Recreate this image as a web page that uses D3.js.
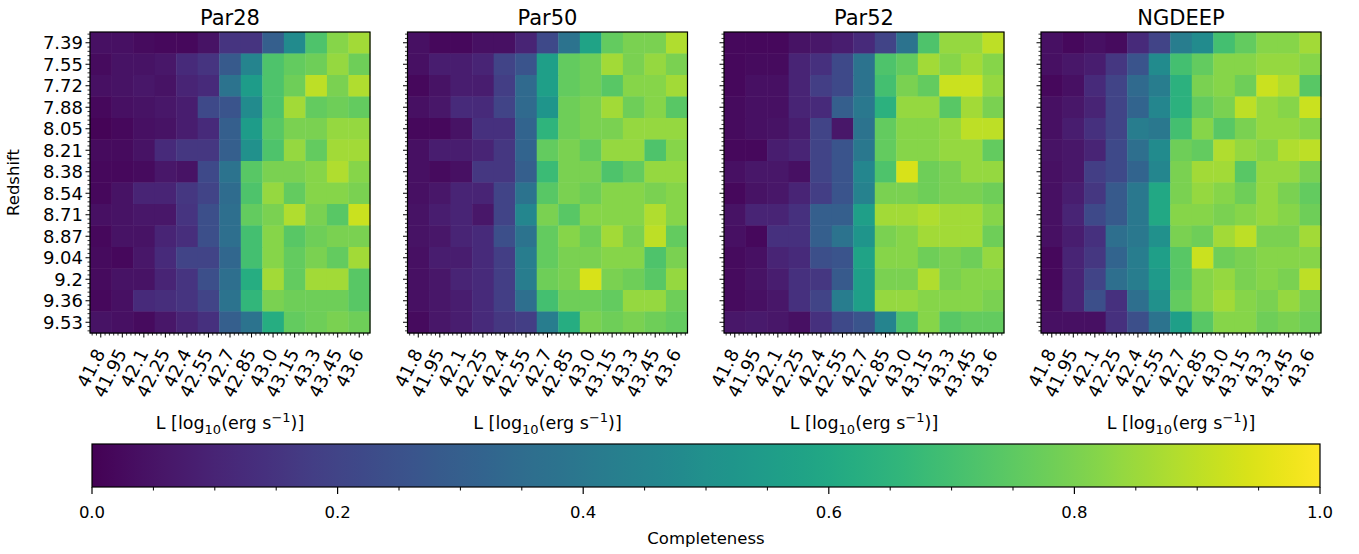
<!DOCTYPE html>
<html>
<head>
<meta charset="utf-8">
<script src="https://cdn.jsdelivr.net/npm/d3@7"></script>
<style>
  body { margin: 0; background: #fff; }
  svg { font-family: "DejaVu Sans", sans-serif; }
</style>
</head>
<body>
<svg id="chart" width="1359" height="554"></svg>
<script>
// luminosity bins (x) and redshift bins (y)
var xLabels = ["41.8", "41.95", "42.1", "42.25", "42.4", "42.55", "42.7", "42.85", "43.0", "43.15", "43.3", "43.45", "43.6"];
var yLabels = ["7.39", "7.55", "7.72", "7.88", "8.05", "8.21", "8.38", "8.54", "8.71", "8.87", "9.04", "9.2", "9.36", "9.53"];
var fieldNames = ["Par28", "Par50", "Par52", "NGDEEP"];
var cbarTicks = [0, 0.2, 0.4, 0.6, 0.8, 1.0];

// completeness, one row per redshift bin
var par28 = [
  [0.04, 0.04, 0.03, 0.02, 0.02, 0.05, 0.15, 0.15, 0.30, 0.48, 0.72, 0.82, 0.86],
  [0.03, 0.05, 0.05, 0.06, 0.12, 0.15, 0.28, 0.45, 0.72, 0.76, 0.78, 0.84, 0.78],
  [0.04, 0.05, 0.06, 0.05, 0.10, 0.12, 0.38, 0.55, 0.72, 0.78, 0.90, 0.80, 0.88],
  [0.02, 0.04, 0.05, 0.06, 0.08, 0.22, 0.26, 0.48, 0.72, 0.86, 0.76, 0.78, 0.76],
  [0.01, 0.02, 0.04, 0.05, 0.08, 0.12, 0.30, 0.55, 0.74, 0.80, 0.80, 0.84, 0.84],
  [0.03, 0.03, 0.05, 0.12, 0.16, 0.16, 0.30, 0.50, 0.72, 0.84, 0.76, 0.86, 0.86],
  [0.02, 0.02, 0.03, 0.06, 0.05, 0.22, 0.38, 0.74, 0.80, 0.80, 0.82, 0.88, 0.82],
  [0.02, 0.05, 0.10, 0.10, 0.16, 0.20, 0.35, 0.72, 0.84, 0.76, 0.82, 0.82, 0.80],
  [0.04, 0.05, 0.06, 0.06, 0.15, 0.24, 0.36, 0.76, 0.80, 0.88, 0.80, 0.74, 0.92],
  [0.02, 0.05, 0.05, 0.10, 0.13, 0.24, 0.36, 0.70, 0.82, 0.74, 0.78, 0.80, 0.80],
  [0.03, 0.02, 0.06, 0.12, 0.20, 0.20, 0.33, 0.70, 0.82, 0.76, 0.80, 0.76, 0.86],
  [0.03, 0.05, 0.05, 0.10, 0.15, 0.24, 0.36, 0.62, 0.86, 0.76, 0.86, 0.86, 0.74],
  [0.02, 0.04, 0.12, 0.13, 0.15, 0.20, 0.38, 0.66, 0.80, 0.78, 0.78, 0.78, 0.74],
  [0.05, 0.04, 0.03, 0.06, 0.10, 0.14, 0.30, 0.38, 0.62, 0.76, 0.78, 0.80, 0.78]
];
var par50 = [
  [0.04, 0.02, 0.02, 0.04, 0.04, 0.10, 0.22, 0.38, 0.58, 0.76, 0.80, 0.80, 0.88],
  [0.04, 0.08, 0.08, 0.10, 0.20, 0.26, 0.56, 0.76, 0.78, 0.86, 0.80, 0.84, 0.80],
  [0.02, 0.05, 0.08, 0.08, 0.18, 0.34, 0.56, 0.76, 0.78, 0.74, 0.82, 0.82, 0.86],
  [0.04, 0.06, 0.12, 0.12, 0.20, 0.34, 0.52, 0.78, 0.80, 0.86, 0.78, 0.82, 0.74],
  [0.02, 0.02, 0.05, 0.14, 0.14, 0.32, 0.65, 0.78, 0.80, 0.80, 0.84, 0.84, 0.84],
  [0.04, 0.08, 0.08, 0.10, 0.16, 0.32, 0.76, 0.80, 0.76, 0.84, 0.84, 0.72, 0.82],
  [0.04, 0.03, 0.04, 0.16, 0.16, 0.30, 0.68, 0.80, 0.80, 0.72, 0.76, 0.84, 0.84],
  [0.04, 0.06, 0.10, 0.10, 0.20, 0.38, 0.74, 0.80, 0.78, 0.82, 0.82, 0.80, 0.82],
  [0.05, 0.08, 0.10, 0.06, 0.20, 0.46, 0.80, 0.74, 0.82, 0.82, 0.82, 0.88, 0.82],
  [0.05, 0.06, 0.10, 0.12, 0.24, 0.38, 0.76, 0.82, 0.78, 0.86, 0.80, 0.90, 0.76],
  [0.04, 0.08, 0.08, 0.12, 0.18, 0.42, 0.76, 0.80, 0.80, 0.82, 0.82, 0.72, 0.80],
  [0.04, 0.06, 0.10, 0.12, 0.18, 0.42, 0.78, 0.80, 0.94, 0.80, 0.78, 0.74, 0.84],
  [0.04, 0.06, 0.08, 0.12, 0.18, 0.36, 0.70, 0.78, 0.78, 0.76, 0.84, 0.84, 0.78],
  [0.03, 0.06, 0.08, 0.12, 0.16, 0.18, 0.42, 0.62, 0.80, 0.78, 0.80, 0.78, 0.76]
];
var par52 = [
  [0.02, 0.02, 0.02, 0.05, 0.06, 0.08, 0.12, 0.20, 0.38, 0.72, 0.84, 0.84, 0.90],
  [0.02, 0.03, 0.03, 0.10, 0.14, 0.22, 0.38, 0.72, 0.76, 0.86, 0.82, 0.86, 0.82],
  [0.02, 0.04, 0.04, 0.10, 0.18, 0.22, 0.38, 0.70, 0.80, 0.76, 0.92, 0.92, 0.84],
  [0.03, 0.04, 0.04, 0.10, 0.12, 0.30, 0.40, 0.64, 0.84, 0.84, 0.74, 0.86, 0.80],
  [0.03, 0.04, 0.05, 0.08, 0.20, 0.06, 0.38, 0.76, 0.82, 0.82, 0.84, 0.90, 0.90],
  [0.02, 0.02, 0.08, 0.10, 0.20, 0.26, 0.40, 0.76, 0.82, 0.82, 0.84, 0.84, 0.76],
  [0.04, 0.06, 0.06, 0.04, 0.20, 0.26, 0.46, 0.72, 0.94, 0.78, 0.80, 0.84, 0.84],
  [0.02, 0.05, 0.06, 0.10, 0.18, 0.26, 0.44, 0.80, 0.80, 0.78, 0.80, 0.80, 0.78],
  [0.05, 0.10, 0.10, 0.14, 0.30, 0.30, 0.56, 0.86, 0.86, 0.88, 0.86, 0.86, 0.82],
  [0.04, 0.02, 0.14, 0.14, 0.30, 0.38, 0.52, 0.80, 0.82, 0.86, 0.86, 0.86, 0.78],
  [0.03, 0.04, 0.10, 0.12, 0.24, 0.26, 0.58, 0.82, 0.82, 0.78, 0.80, 0.78, 0.84],
  [0.03, 0.05, 0.08, 0.14, 0.16, 0.28, 0.56, 0.80, 0.80, 0.88, 0.80, 0.82, 0.82],
  [0.03, 0.04, 0.06, 0.14, 0.20, 0.42, 0.56, 0.84, 0.84, 0.82, 0.82, 0.82, 0.80],
  [0.06, 0.07, 0.06, 0.04, 0.14, 0.22, 0.26, 0.45, 0.72, 0.82, 0.74, 0.76, 0.76]
];
var ngdeep = [
  [0.04, 0.02, 0.04, 0.03, 0.12, 0.20, 0.42, 0.48, 0.70, 0.76, 0.82, 0.82, 0.86],
  [0.04, 0.06, 0.08, 0.16, 0.26, 0.48, 0.70, 0.76, 0.82, 0.82, 0.84, 0.84, 0.82],
  [0.02, 0.04, 0.12, 0.20, 0.34, 0.42, 0.64, 0.80, 0.82, 0.78, 0.92, 0.88, 0.74],
  [0.04, 0.06, 0.10, 0.20, 0.32, 0.46, 0.64, 0.76, 0.80, 0.90, 0.84, 0.82, 0.92],
  [0.04, 0.08, 0.14, 0.20, 0.42, 0.40, 0.70, 0.82, 0.74, 0.80, 0.84, 0.84, 0.82],
  [0.05, 0.06, 0.10, 0.22, 0.36, 0.48, 0.78, 0.76, 0.88, 0.84, 0.82, 0.88, 0.90],
  [0.04, 0.06, 0.18, 0.22, 0.32, 0.46, 0.80, 0.86, 0.86, 0.74, 0.84, 0.84, 0.80],
  [0.04, 0.08, 0.16, 0.28, 0.40, 0.60, 0.80, 0.84, 0.82, 0.78, 0.84, 0.80, 0.76],
  [0.04, 0.10, 0.22, 0.28, 0.40, 0.60, 0.82, 0.82, 0.80, 0.82, 0.84, 0.82, 0.78],
  [0.04, 0.08, 0.14, 0.36, 0.40, 0.50, 0.80, 0.78, 0.86, 0.90, 0.80, 0.80, 0.86],
  [0.02, 0.10, 0.16, 0.32, 0.42, 0.56, 0.74, 0.92, 0.78, 0.80, 0.82, 0.82, 0.82],
  [0.02, 0.10, 0.20, 0.36, 0.42, 0.54, 0.74, 0.82, 0.84, 0.80, 0.82, 0.80, 0.90],
  [0.03, 0.10, 0.24, 0.14, 0.36, 0.50, 0.76, 0.82, 0.86, 0.82, 0.80, 0.84, 0.80],
  [0.04, 0.04, 0.04, 0.14, 0.24, 0.38, 0.56, 0.74, 0.82, 0.82, 0.78, 0.80, 0.78]
];
var fieldData = [par28, par50, par52, ngdeep];

var svg = d3.select("#chart");
var panelLefts = [90, 407.5, 724, 1041];
var panelTop = 32;
var panelW = 280, panelH = 301;

var color = d3.scaleSequential(d3.interpolateViridis).domain([0, 1]);

var x = d3.scaleLinear().domain([-0.5, xLabels.length - 0.5]).range([0, panelW]);
var y = d3.scaleLinear().domain([-0.5, yLabels.length - 0.5]).range([0, panelH]);

// minor ticks every fifth of a bin
var xMinor = d3.range(-0.4, xLabels.length - 0.5, 0.2).filter(function(v) { return Math.abs(v - Math.round(v)) > 0.01; });
var yMinor = d3.range(-0.4, yLabels.length - 0.5, 0.2).filter(function(v) { return Math.abs(v - Math.round(v)) > 0.01; });

var drawPanel = function(i) {
    var g = svg.append("g")
        .attr("transform", "translate(" + panelLefts[i] + "," + panelTop + ")");
    var data = fieldData[i];

    var cells = [];
    data.forEach(function(row, r) {
        row.forEach(function(v, c) { cells.push({r: r, c: c, v: v}); });
    });

    g.selectAll("rect.cell")
        .data(cells)
        .enter().append("rect")
        .attr("class", "cell")
        .attr("x", function(d) { return x(d.c - 0.5); })
        .attr("y", function(d) { return y(d.r - 0.5); })
        .attr("width", x(1) - x(0) + 0.4)
        .attr("height", y(1) - y(0) + 0.4)
        .attr("fill", function(d) { return color(d.v); });

    g.append("rect")
        .attr("width", panelW)
        .attr("height", panelH)
        .attr("fill", "none")
        .attr("stroke", "#000")
        .attr("stroke-width", 1.2);

    // bottom axis
    var bx = g.append("g").attr("transform", "translate(0," + panelH + ")");
    bx.selectAll("line.minor").data(xMinor).enter().append("line")
        .attr("x1", function(d) { return x(d); }).attr("x2", function(d) { return x(d); })
        .attr("y1", 0).attr("y2", 2.5)
        .attr("stroke", "#000").attr("stroke-width", 0.8);
    bx.selectAll("line.major").data(xLabels).enter().append("line")
        .attr("x1", function(d, k) { return x(k); }).attr("x2", function(d, k) { return x(k); })
        .attr("y1", 0).attr("y2", 4.5)
        .attr("stroke", "#000").attr("stroke-width", 1);
    bx.selectAll("text").data(xLabels).enter().append("text")
        .attr("transform", function(d, k) { return "translate(" + (x(k) + 5) + ",20) rotate(-63)"; })
        .attr("text-anchor", "end")
        .attr("font-size", 18)
        .attr("fill", "#000")
        .text(function(d) { return d; });

    // left axis
    var ly = g.append("g");
    ly.selectAll("line.minor").data(yMinor).enter().append("line")
        .attr("y1", function(d) { return y(d); }).attr("y2", function(d) { return y(d); })
        .attr("x1", 0).attr("x2", -2.5)
        .attr("stroke", "#000").attr("stroke-width", 0.8);
    ly.selectAll("line.major").data(yLabels).enter().append("line")
        .attr("y1", function(d, k) { return y(k); }).attr("y2", function(d, k) { return y(k); })
        .attr("x1", 0).attr("x2", -4.5)
        .attr("stroke", "#000").attr("stroke-width", 1);
    if (i === 0) {
        ly.selectAll("text").data(yLabels).enter().append("text")
            .attr("x", -7)
            .attr("y", function(d, k) { return y(k); })
            .attr("dy", "0.36em")
            .attr("text-anchor", "end")
            .attr("font-size", 18)
            .attr("fill", "#000")
            .text(function(d) { return d; });
        g.append("text")
            .attr("transform", "translate(-71," + (panelH / 2) + ") rotate(-90)")
            .attr("text-anchor", "middle")
            .attr("font-size", 16.5)
            .text("Redshift");
    }

    // title
    g.append("text")
        .attr("x", panelW / 2)
        .attr("y", -7)
        .attr("text-anchor", "middle")
        .attr("font-size", 21)
        .text(fieldNames[i]);

    // x label with sub/superscripts
    var t = g.append("text")
        .attr("x", panelW / 2)
        .attr("y", 397)
        .attr("text-anchor", "middle")
        .attr("font-size", 17.5);
    t.append("tspan").text("L [log");
    t.append("tspan").attr("font-size", 13).attr("dy", 5).text("10");
    t.append("tspan").attr("dy", -5).text("(erg s");
    t.append("tspan").attr("font-size", 13).attr("dy", -7).text("\u22121");
    t.append("tspan").attr("dy", 7).text(")]");
};

for (var i = 0; i < fieldData.length; i++) drawPanel(i);

// colorbar
var cbLeft = 92, cbRight = 1320, cbTop = 444, cbH = 43;
var cx = d3.scaleLinear().domain([0, 1]).range([cbLeft, cbRight]);

var grad = svg.append("defs").append("linearGradient")
    .attr("id", "viridis")
    .attr("x1", "0%").attr("x2", "100%");
grad.selectAll("stop")
    .data(d3.range(0, 1.0001, 0.02))
    .enter().append("stop")
    .attr("offset", function(d) { return (d * 100) + "%"; })
    .attr("stop-color", function(d) { return color(d); });

svg.append("rect")
    .attr("x", cbLeft).attr("y", cbTop)
    .attr("width", cbRight - cbLeft).attr("height", cbH)
    .attr("fill", "url(#viridis)")
    .attr("stroke", "#000")
    .attr("stroke-width", 1.2);

var cbAxis = svg.append("g").attr("transform", "translate(0," + (cbTop + cbH) + ")");
cbAxis.selectAll("line.minor")
    .data(d3.range(0.05, 1, 0.05).filter(function(v) { return Math.abs(v * 5 - Math.round(v * 5)) > 0.01; }))
    .enter().append("line")
    .attr("x1", function(d) { return cx(d); }).attr("x2", function(d) { return cx(d); })
    .attr("y1", 0).attr("y2", 3.5)
    .attr("stroke", "#000").attr("stroke-width", 1);
cbAxis.selectAll("line.major").data(cbarTicks).enter().append("line")
    .attr("x1", function(d) { return cx(d); }).attr("x2", function(d) { return cx(d); })
    .attr("y1", 0).attr("y2", 7)
    .attr("stroke", "#000").attr("stroke-width", 1.2);
cbAxis.selectAll("text").data(cbarTicks).enter().append("text")
    .attr("x", function(d) { return cx(d); })
    .attr("y", 31)
    .attr("text-anchor", "middle")
    .attr("font-size", 16.5)
    .text(function(d) { return d3.format(".1f")(d); });

svg.append("text")
    .attr("x", (cbLeft + cbRight) / 2)
    .attr("y", 544)
    .attr("text-anchor", "middle")
    .attr("font-size", 16.5)
    .text("Completeness");
</script>
</body>
</html>
